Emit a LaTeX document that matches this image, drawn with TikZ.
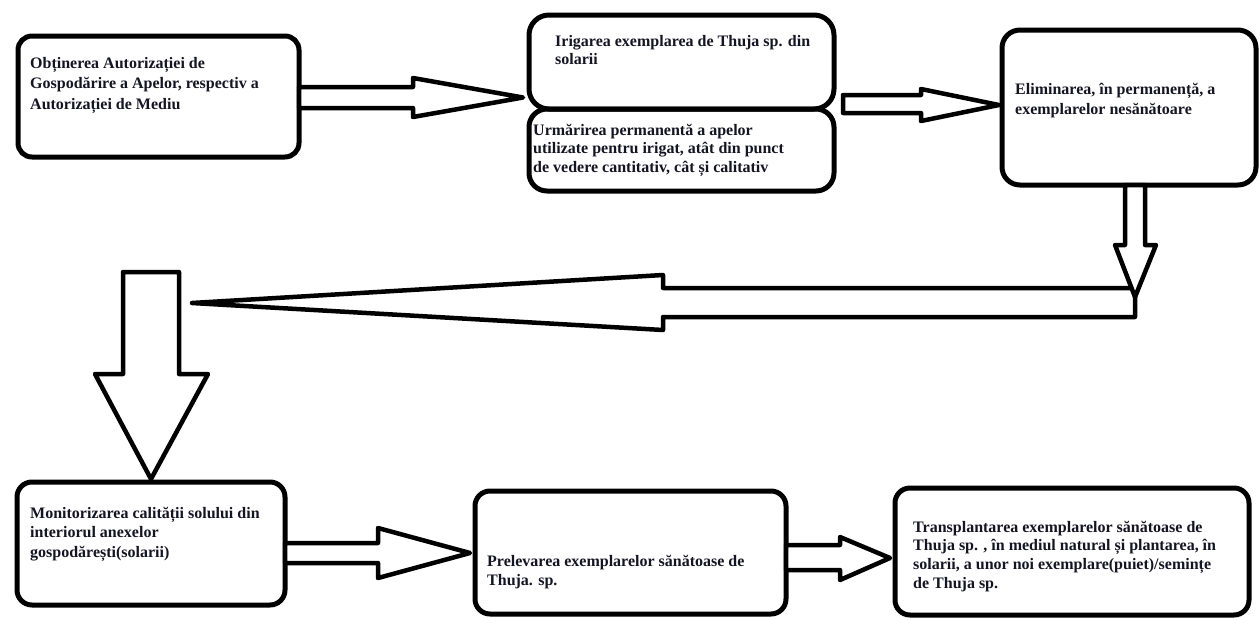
\documentclass[tikz,border=0pt]{standalone}
\usepackage{fontspec}
\setmainfont{Liberation Serif}
\usetikzlibrary{calc}
\definecolor{textc}{RGB}{20,20,35}
\begin{document}
\begin{tikzpicture}[x=1pt,y=-1pt,
  box/.style={draw=black, line width=5pt, rounded corners=#1, outer sep=0pt, inner sep=0pt},
  box/.default=15pt,
  blockarrow/.style={draw=black, line width=4.5pt, line join=round, fill=white},
  txt/.style={anchor=base west, inner sep=0pt, align=left, text=textc,
    font=\fontsize{16}{#1}\selectfont\bfseries},
  txt/.default=18.4]
\useasboundingbox (0,0) rectangle (1259,619);

% boxes
\node[box=14pt, minimum width=281pt, minimum height=121pt] (b1) at (158.5,96.5) {};
\node[box=20pt, minimum width=305pt, minimum height=94pt] (b2a) at (681.5,62) {};
\node[box=18pt, minimum width=305pt, minimum height=82pt] (b2b) at (681.5,150) {};
\node[box=18pt, minimum width=254pt, minimum height=155pt] (b3) at (1129,107.5) {};
\node[box=15pt, minimum width=268pt, minimum height=123pt] (b4) at (151,543.5) {};
\node[box=15pt, minimum width=311pt, minimum height=123pt] (b5) at (630.5,552.5) {};
\node[box=15pt, minimum width=354pt, minimum height=127pt] (b6) at (1072,551.5) {};

% texts (anchor = baseline of the last line)
\node[txt=20.5] (t1) at (30,109) {Obținerea Autorizației de\\Gospodărire a Apelor, respectiv a\\Autorizației de Mediu};
\node[txt] (t2a) at (555,64.4) {Irigarea exemplarea de Thuja sp. din\\solarii};
\node[txt] (t2b) at (533,172) {Urmărirea permanentă a apelor\\utilizate pentru irigat, atât din punct\\de vedere cantitativ, cât și calitativ};
\node[txt=20] (t3) at (1015,114.5) {Eliminarea, în permanență, a\\exemplarelor nesănătoare};
\node[txt=19.5] (t4) at (30,557) {Monitorizarea calității solului din\\interiorul anexelor\\gospodărești(solarii)};
\node[txt=19] (t5) at (487,585) {Prelevarea exemplarelor sănătoase de\\Thuja. sp.};
\node[txt=18.6] (t6) at (913,588) {Transplantarea exemplarelor sănătoase de\\Thuja sp. , în mediul natural și plantarea, în\\solarii, a unor noi exemplare(puiet)/semințe\\de Thuja sp.};

% helper coordinates
\coordinate (a1tip) at ($(b2a.south west)+(-6,-11.5)$);
\coordinate (a2tip) at ($(b3.west)+(-3,-2.5)$);
\coordinate (j) at (1135,302.5);
\coordinate (a4tip) at (192,303);
\coordinate (a5top) at (151,272);
\coordinate (a5tip) at ($(b4.north)+(0,-3)$);
\coordinate (a6tip) at ($(b5.west)+(-5,0.5)$);
\coordinate (a7tip) at ($(b6.west)+(-5,6.5)$);

% A1: b1 -> b2
\draw[blockarrow] ($(b1.east)+(0,-9.5)$) -- ++(114,0) -- ++(0,-9) -- (a1tip)
  -- ($(b1.east)+(114,20.5)$) -- ++(0,-9) -- ($(b1.east)+(0,11.5)$) -- cycle;
% A2: b2 -> b3
\draw[blockarrow] ($(b2a.south east)+(9,-14)$) -- ++(78,0) -- ++(0,-6) -- (a2tip)
  -- ($(b2a.south east)+(87,12)$) -- ++(0,-8) -- ($(b2a.south east)+(9,4)$) -- cycle;
% A4: long arrow to the left
\draw[blockarrow] ($(j)+(0,-14.5)$) -- (663,288) -- (663,275) -- (a4tip)
  -- (663,330) -- (663,317) -- ($(j)+(0,14.5)$) -- cycle;
% A3: b3 -> long arrow
\draw[blockarrow] ($(b3.south)+(-4,0)$) -- ++(0,60) -- ++(-10,0) -- ($(j)+(0,-5.5)$)
  -- ($(b3.south)+(27,60)$) -- ++(-11,0) -- ($(b3.south)+(16,0)$) -- cycle;
% A5: big down arrow -> b4
\draw[blockarrow] ($(a5top)+(-28,0)$) -- ($(a5top)+(28,0)$) -- ++(0,102) -- ++(29,0) -- (a5tip)
  -- ($(a5top)+(-56,102)$) -- ++(28,0) -- cycle;
% A6: b4 -> b5
\draw[blockarrow] ($(b4.east)+(0,-0.5)$) -- ++(93,0) -- ++(0,-15) -- (a6tip)
  -- ($(b4.east)+(93,34.5)$) -- ++(0,-15) -- ($(b4.east)+(0,19.5)$) -- cycle;
% A7: b5 -> b6
\draw[blockarrow] ($(b5.east)+(0,-7.5)$) -- ++(54,0) -- ++(0,-8) -- (a7tip)
  -- ($(b5.east)+(54,27.5)$) -- ++(0,-10) -- ($(b5.east)+(0,17.5)$) -- cycle;
\end{tikzpicture}
\end{document}
